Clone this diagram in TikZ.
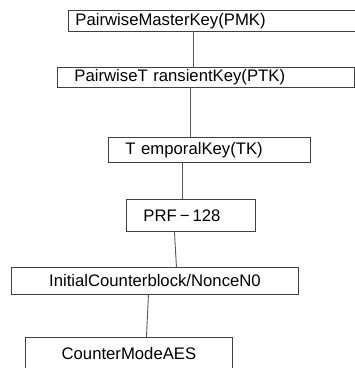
\documentclass[tikz,border=0pt]{standalone}
\usepackage{fontspec}
\setmainfont{Liberation Sans}

\begin{document}
\begin{tikzpicture}[x=1pt,y=-1pt,
      keybox/.style={
        draw=black!75, line width=0.9pt, inner sep=0pt, anchor=north west,
        font=\fontsize{16.7}{20}\selectfont
      },
      link/.style={
        color=black!65, line width=0.9pt
      }
    ]
    \useasboundingbox (0,0) rectangle (355,368);
    \clip (0,0) rectangle (355,368);
    \node [keybox, text width=290pt, minimum height=21pt, align=left] (pmk) at (68,10) {\hspace*{7pt}PairwiseMasterKey(PMK)};
    \node [keybox, text width=297pt, minimum height=20pt, align=left] (ptk) at (57,67) {\hspace*{17pt}PairwiseT ransientKey(PTK)};
    \node [keybox, text width=202pt, minimum height=25pt, align=left] (tk) at (108,137) {\hspace*{17pt}T emporalKey(TK)};
    \node [keybox, text width=129pt, minimum height=32pt, align=left] (prf) at (126,199) {\hspace*{17pt}PRF\hspace{3pt}−\hspace{3pt}128};
    \node [keybox, text width=287pt, minimum height=27pt, align=center] (ncb) at (11,267) {InitialCounterblock/NonceN0};
    \node [keybox, text width=207pt, minimum height=32pt, align=center] (aes) at (25,337) {CounterModeAES};
    % connectors
    \draw [link] ([xshift=-20pt]pmk.south) -- ([xshift=-12.5pt]ptk.north);
    \draw [link] ([xshift=-15.5pt]ptk.south) -- ([xshift=-19pt]tk.north);
    \draw [link] ([xshift=-27pt]tk.south) -- ([xshift=-8.5pt]prf.north);
    \draw [link] ([xshift=-16.5pt]prf.south) -- ([xshift=21.5pt]ncb.north);
    \draw [link] ([xshift=-6.5pt]ncb.south) -- ([xshift=17.5pt]aes.north);
  \end{tikzpicture}
\end{document}
